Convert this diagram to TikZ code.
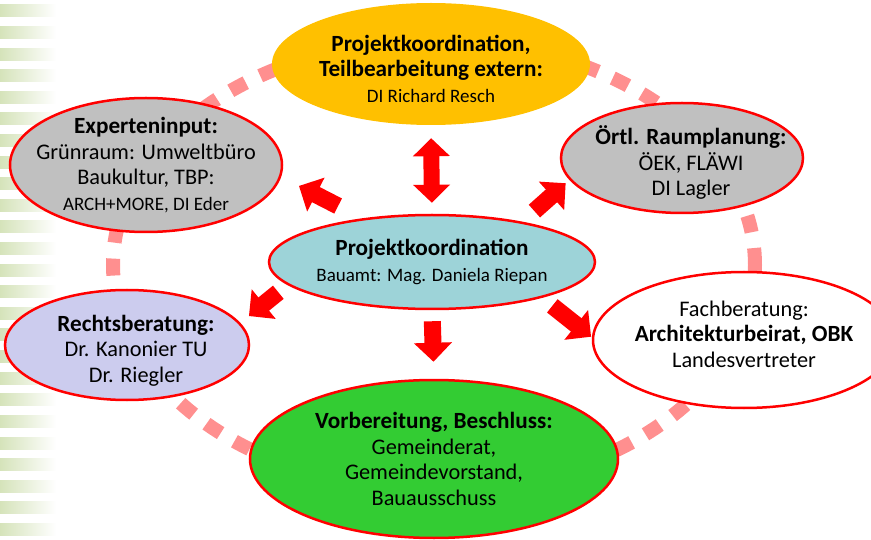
\documentclass[tikz,border=0pt]{standalone}
\usepackage{fontspec}
\setmainfont{Carlito}
\usetikzlibrary{arrows.meta,shapes.geometric}

\definecolor{ringpink}{HTML}{FF8F8F}
\definecolor{stripegreen}{HTML}{D5E3BA}
\definecolor{extgold}{HTML}{FFC000}
\definecolor{planggray}{HTML}{C0C0C0}
\definecolor{midteal}{HTML}{9DD3D8}
\definecolor{rechtlila}{HTML}{CCCCEE}
\definecolor{beschlussgreen}{HTML}{33CC33}

\newcommand{\titletxt}[1]{{\bfseries\fontsize{23.2}{25.5}\selectfont #1}}
\newcommand{\smalltxt}[1]{{\fontsize{19}{25.5}\selectfont #1}}
\newcommand{\nudge}{\hspace*{18pt}}

\begin{document}
\begin{tikzpicture}[x=1pt,y=-1pt,>=Triangle,
  blob/.style={ellipse, inner sep=-30pt, align=center,
    font=\fontsize{22.3}{25.5}\selectfont},
  redrim/.style={draw=red, line width=2.5pt},
  bigarrow/.style={draw=red, line width=17pt,
    -{Triangle[width=37pt,length=19pt]}},
  dblarrow/.style={draw=red, line width=16pt,
    {Triangle[width=36pt,length=18pt]}-{Triangle[width=36pt,length=18pt]}}]
  \useasboundingbox (0,0) rectangle (871,540);
  % ---- stripes on the left edge ----
  \foreach \i in {0,...,24} {
    \shade[left color=stripegreen, right color=white]
      (0,{5+21.6*\i}) rectangle (56,{17+21.6*\i});
  }
  % ---- dashed ring behind the ellipses ----
  \draw[ringpink, line width=14pt, dash pattern=on 17pt off 16pt]
    (434,265) ellipse [x radius=321pt, y radius=225pt];
  % ---- ellipses ----
  \node[blob, fill=extgold, minimum width=318pt, minimum height=122pt] (ext) at (431,64)
    {\rule{0pt}{26pt}\titletxt{Projektkoordination,}\\ \titletxt{Teilbearbeitung extern:}\\ \smalltxt{DI Richard Resch}};
  \node[blob, redrim, fill=planggray, minimum width=272pt, minimum height=134pt] (exp) at (146,165)
    {\titletxt{Experteninput:}\\ Grünraum: Umweltbüro\\ Baukultur, TBP:\\ \smalltxt{ARCH+MORE, DI Eder}};
  \node[blob, redrim, fill=planggray, minimum width=242pt, minimum height=110pt] (orl) at (682,158)
    {\rule{0pt}{28pt}\nudge\titletxt{Örtl. Raumplanung:}\\ \nudge ÖEK, FLÄWI\\ \nudge DI Lagler};
  \node[blob, redrim, fill=midteal, minimum width=326pt, minimum height=94pt] (mid) at (432,262)
    {\titletxt{Projektkoordination}\\ \smalltxt{Bauamt: Mag. Daniela Riepan}};
  \node[blob, redrim, fill=rechtlila, minimum width=244pt, minimum height=110pt] (rec) at (127,345)
    {\rule{0pt}{27pt}\nudge\titletxt{Rechtsberatung:}\\ \nudge Dr. Kanonier TU\\ \nudge Dr. Riegler};
  \node[blob, redrim, fill=white, minimum width=302pt, minimum height=136pt] (fach) at (744,340)
    {Fachberatung:\\ \titletxt{Architekturbeirat, OBK}\\ Landesvertreter\rule[-12pt]{0pt}{0pt}};
  \node[blob, redrim, fill=beschlussgreen, minimum width=368pt, minimum height=158pt] (vor) at (434,459)
    {\titletxt{Vorbereitung, Beschluss:}\\ Gemeinderat,\\ Gemeindevorstand,\\ Bauausschuss};
  % ---- arrows ----
  \draw[dblarrow, shorten <=13pt, shorten >=11pt] (ext.south) -- (mid.north);
  \draw[bigarrow, shorten <=27pt, shorten >=20pt] (mid.148) -- (exp.355);
  \draw[bigarrow, shorten <=16pt, shorten >=5pt] (mid.24.4) -- (orl.191.1);
  \draw[bigarrow, shorten <=11.7pt, shorten >=11pt] (mid.189.9) -- (rec.11);
  \draw[bigarrow, shorten <=11pt, shorten >=17pt] (mid.south) -- (vor.north);
  \draw[bigarrow, shorten <=13pt, shorten >=1pt] (mid.342.6) -- (fach.179.1);
\end{tikzpicture}
\end{document}
